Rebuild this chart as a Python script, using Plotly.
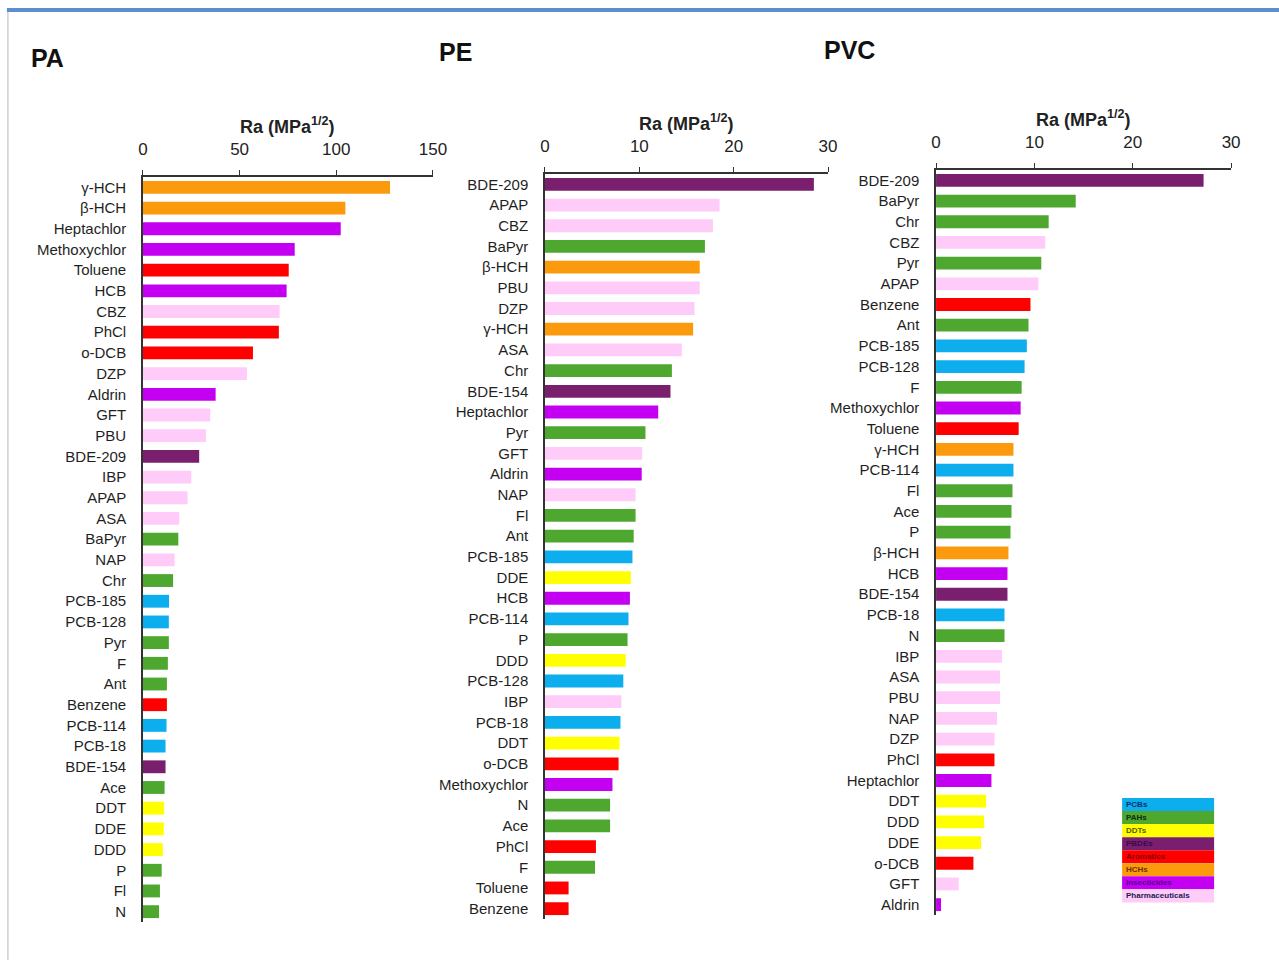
import plotly.graph_objects as go

# Compound classes and their bar colours
classes = ["PCBs", "PAHs", "DDTs", "PBDEs", "Aromatics", "HCHs", "Insecticides", "Pharmaceuticals"]
class_colors = {
    "PCBs": "#0DAEEE",
    "PAHs": "#4EA72E",
    "DDTs": "#FFFF00",
    "PBDEs": "#7A1F6E",
    "Aromatics": "#FF0000",
    "HCHs": "#FB9A0C",
    "Insecticides": "#C400F2",
    "Pharmaceuticals": "#FFCCFA",
}
class_text_colors = {
    "PCBs": "#0b2f6b",
    "PAHs": "#0d2e0d",
    "DDTs": "#5a5a00",
    "PBDEs": "#3a0a50",
    "Aromatics": "#8a0000",
    "HCHs": "#6a3000",
    "Insecticides": "#5a0090",
    "Pharmaceuticals": "#202050",
}

compound_class = {}
for c in ["PCB-18", "PCB-114", "PCB-128", "PCB-185"]:
    compound_class[c] = "PCBs"
for c in ["N", "Ace", "Fl", "P", "Ant", "F", "Pyr", "Chr", "BaPyr"]:
    compound_class[c] = "PAHs"
for c in ["DDT", "DDD", "DDE"]:
    compound_class[c] = "DDTs"
for c in ["BDE-154", "BDE-209"]:
    compound_class[c] = "PBDEs"
for c in ["Benzene", "Toluene", "PhCl", "o-DCB"]:
    compound_class[c] = "Aromatics"
for c in ["γ-HCH", "β-HCH"]:
    compound_class[c] = "HCHs"
for c in ["Heptachlor", "Methoxychlor", "HCB", "Aldrin"]:
    compound_class[c] = "Insecticides"
for c in ["CBZ", "DZP", "GFT", "PBU", "IBP", "APAP", "ASA", "NAP"]:
    compound_class[c] = "Pharmaceuticals"

# PA
pa_names = ["γ-HCH", "β-HCH", "Heptachlor", "Methoxychlor", "Toluene", "HCB", "CBZ", "PhCl",
            "o-DCB", "DZP", "Aldrin", "GFT", "PBU", "BDE-209", "IBP", "APAP", "ASA", "BaPyr",
            "NAP", "Chr", "PCB-185", "PCB-128", "Pyr", "F", "Ant", "Benzene", "PCB-114",
            "PCB-18", "BDE-154", "Ace", "DDT", "DDE", "DDD", "P", "Fl", "N"]
pa_values = [127.8, 104.7, 102.3, 78.5, 75.4, 74.3, 70.7, 70.3,
             56.9, 53.8, 37.6, 34.8, 32.6, 29.1, 25.0, 23.1, 18.8, 18.3,
             16.4, 15.6, 13.5, 13.4, 13.4, 12.9, 12.4, 12.4, 12.2,
             11.7, 11.7, 11.2, 11.0, 10.8, 10.3, 9.7, 8.8, 8.3]

# PE
pe_names = ["BDE-209", "APAP", "CBZ", "BaPyr", "β-HCH", "PBU", "DZP", "γ-HCH", "ASA", "Chr",
            "BDE-154", "Heptachlor", "Pyr", "GFT", "Aldrin", "NAP", "Fl", "Ant", "PCB-185",
            "DDE", "HCB", "PCB-114", "P", "DDD", "PCB-128", "IBP", "PCB-18", "DDT", "o-DCB",
            "Methoxychlor", "N", "Ace", "PhCl", "F", "Toluene", "Benzene"]
pe_values = [28.5, 18.5, 17.8, 16.95, 16.4, 16.4, 15.85, 15.7, 14.5, 13.45,
             13.3, 12.0, 10.65, 10.3, 10.25, 9.6, 9.6, 9.4, 9.27,
             9.1, 9.0, 8.85, 8.75, 8.55, 8.3, 8.1, 8.0, 7.9, 7.8,
             7.15, 6.9, 6.9, 5.4, 5.3, 2.5, 2.5]

# PVC
pvc_names = ["BDE-209", "BaPyr", "Chr", "CBZ", "Pyr", "APAP", "Benzene", "Ant", "PCB-185",
             "PCB-128", "F", "Methoxychlor", "Toluene", "γ-HCH", "PCB-114", "Fl", "Ace", "P",
             "β-HCH", "HCB", "BDE-154", "PCB-18", "N", "IBP", "ASA", "PBU", "NAP", "DZP",
             "PhCl", "Heptachlor", "DDT", "DDD", "DDE", "o-DCB", "GFT", "Aldrin"]
pvc_values = [27.2, 14.2, 11.45, 11.1, 10.7, 10.4, 9.6, 9.4, 9.23,
              9.0, 8.7, 8.6, 8.4, 7.87, 7.87, 7.77, 7.67, 7.57,
              7.36, 7.26, 7.26, 6.96, 6.96, 6.7, 6.5, 6.5, 6.2, 5.94,
              5.94, 5.63, 5.09, 4.89, 4.58, 3.8, 2.3, 0.5]

panel_titles = ["PA", "PE", "PVC"]
axis_maxes = [150, 30, 30]
axis_dticks = [50, 10, 10]

W, H = 1299, 960
X_SCALE, X_OFFSET = 0.9852, 5.1


def px_x(x):
    return (x - X_OFFSET) / X_SCALE / W


def px_y(y):
    return 1 - y / H


# Plot areas in pixels: (left, right, top, bottom)
boxes = [(143, 433, 177, 922), (545, 828, 174, 919), (936, 1231, 170, 915)]
title_pos = [(29, 58), (437, 52), (822, 50)]

panels = [(pa_names, pa_values), (pe_names, pe_values), (pvc_names, pvc_values)]

fig = go.Figure()
layout = dict(
    width=W, height=H, autosize=False,
    margin=dict(l=0, r=0, t=0, b=0),
    paper_bgcolor="white", plot_bgcolor="white",
    font=dict(family="Liberation Sans, Arial, sans-serif", color="#1f1f1f"),
    showlegend=False, bargap=0.38,
)
annotations = []
shapes = []

for i, (names, values) in enumerate(panels):
    s = "" if i == 0 else str(i + 1)
    fig.add_trace(go.Bar(
        x=values, y=names, orientation="h",
        marker=dict(color=[class_colors[compound_class[n]] for n in names], line=dict(width=0)),
        width=0.62, xaxis="x" + s, yaxis="y" + s, showlegend=False,
        hovertemplate="%{y}: %{x}<extra></extra>",
    ))
    l, r, t, b = boxes[i]
    layout["xaxis" + s] = dict(
        domain=[px_x(l), px_x(r)], range=[0, axis_maxes[i]], dtick=axis_dticks[i], tick0=0,
        side="top", anchor="y" + s, showline=True, linecolor="#333333", linewidth=1.5,
        ticks="outside", ticklen=5, tickcolor="#333333", tickwidth=1.2,
        tickfont=dict(size=17, color="#222222"), ticklabelstandoff=8,
        showgrid=False, zeroline=False,
    )
    layout["yaxis" + s] = dict(
        domain=[px_y(b), px_y(t)], anchor="x" + s, type="category",
        categoryorder="array", categoryarray=names,
        range=[len(names) - 0.5, -0.5],
        showline=True, linecolor="#333333", linewidth=1.5, ticks="",
        tickfont=dict(size=15, color="#1f1f1f"), ticklabelstandoff=12,
        showgrid=False, zeroline=False,
    )
    tx, ty = title_pos[i]
    annotations.append(dict(
        text="<b>%s</b>" % panel_titles[i], x=px_x(tx), y=px_y(ty), xref="paper", yref="paper",
        xanchor="left", yanchor="middle", showarrow=False,
        font=dict(size=25, color="#111111", family="Liberation Sans, Arial, sans-serif"),
    ))
    annotations.append(dict(
        text="<b>Ra (MPa<sup>1/2</sup>)</b>", x=px_x((l + r) / 2), y=px_y(t - 52),
        xref="paper", yref="paper", xanchor="center", yanchor="middle", showarrow=False,
        font=dict(size=18, color="#222222", family="Liberation Sans, Arial, sans-serif"),
    ))

# Frame: blue rule across the top and a thin grey edge on the left
shapes.append(dict(type="rect", xref="paper", yref="paper", x0=px_x(7), x1=1, y0=px_y(12), y1=px_y(8),
                   fillcolor="#5B8FD0", line=dict(width=0)))
shapes.append(dict(type="line", xref="paper", yref="paper", x0=px_x(8), x1=px_x(8), y0=0, y1=px_y(12),
                   line=dict(color="#CFCFCF", width=1.5)))

# Colour key for the compound classes
lx0, lx1, ly0, row_h = 1122, 1214, 798, 13.05
for k, cls in enumerate(classes):
    y_top = ly0 + k * row_h
    shapes.append(dict(type="rect", xref="paper", yref="paper",
                       x0=px_x(lx0), x1=px_x(lx1), y0=px_y(y_top + row_h), y1=px_y(y_top),
                       fillcolor=class_colors[cls], line=dict(width=0)))
    annotations.append(dict(
        text="<b>%s</b>" % cls, x=px_x(lx0 + 2), y=px_y(y_top + row_h / 2),
        xref="paper", yref="paper", xanchor="left", yanchor="middle", showarrow=False,
        font=dict(size=8, color=class_text_colors[cls], family="Liberation Sans, Arial, sans-serif"),
    ))

layout["annotations"] = annotations
layout["shapes"] = shapes
fig.update_layout(**layout)

# Page without body margin or scrollbars so the figure sits at the window origin
page_css = (
    "document.body.style.margin='0';"
    "document.body.style.overflow='hidden';"
    "document.documentElement.style.overflow='hidden';"
)
fig.write_html("out.html", post_script=page_css)
